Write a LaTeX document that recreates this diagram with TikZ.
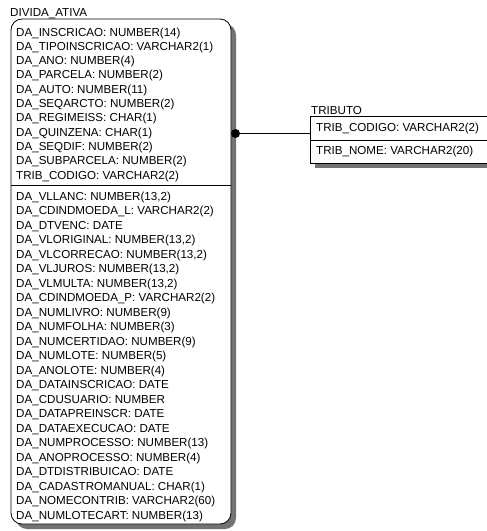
\documentclass[tikz,border=0pt]{standalone}
\usepackage{fontspec}
\setmainfont{Liberation Sans}
\begin{document}
\begin{tikzpicture}[x=1pt, y=-1pt,
  entline/.style={draw=black, line width=0.8pt},
  entshadow/.style={fill=black!55},
  attr/.style={anchor=base west, inner sep=0pt, font=\fontsize{11.6}{13}\selectfont},
  enttitle/.style={anchor=base west, inner sep=0pt, font=\fontsize{11.6}{13}\selectfont},
  keydot/.style={circle, fill=black, inner sep=0pt, minimum size=9pt}]
\useasboundingbox (0,0) rectangle (487,531);

% ---- DIVIDA_ATIVA entity ----
\fill[entshadow, rounded corners=11pt] (16,24) rectangle (236,529);
\filldraw[entline, fill=white, rounded corners=11pt] (11,19) rectangle (231,524);
\draw[entline] (11,185) -- (231,185);
\node[enttitle] (da) at (10,16.7) {DIVIDA\_ATIVA};
\coordinate (daedge) at (235.5,133.5);

\foreach \t [count=\i] in {
  {DA\_INSCRICAO: NUMBER(14)},
  {DA\_TIPOINSCRICAO: VARCHAR2(1)},
  {DA\_ANO: NUMBER(4)},
  {DA\_PARCELA: NUMBER(2)},
  {DA\_AUTO: NUMBER(11)},
  {DA\_SEQARCTO: NUMBER(2)},
  {DA\_REGIMEISS: CHAR(1)},
  {DA\_QUINZENA: CHAR(1)},
  {DA\_SEQDIF: NUMBER(2)},
  {DA\_SUBPARCELA: NUMBER(2)},
  {TRIB\_CODIGO: VARCHAR2(2)}}
  \node[attr] (dak\i) at (16,{36+(\i-1)*14.3}) {\t};

\foreach \t [count=\i] in {
  {DA\_VLLANC: NUMBER(13,2)},
  {DA\_CDINDMOEDA\_L: VARCHAR2(2)},
  {DA\_DTVENC: DATE},
  {DA\_VLORIGINAL: NUMBER(13,2)},
  {DA\_VLCORRECAO: NUMBER(13,2)},
  {DA\_VLJUROS: NUMBER(13,2)},
  {DA\_VLMULTA: NUMBER(13,2)},
  {DA\_CDINDMOEDA\_P: VARCHAR2(2)},
  {DA\_NUMLIVRO: NUMBER(9)},
  {DA\_NUMFOLHA: NUMBER(3)},
  {DA\_NUMCERTIDAO: NUMBER(9)},
  {DA\_NUMLOTE: NUMBER(5)},
  {DA\_ANOLOTE: NUMBER(4)},
  {DA\_DATAINSCRICAO: DATE},
  {DA\_CDUSUARIO: NUMBER},
  {DA\_DATAPREINSCR: DATE},
  {DA\_DATAEXECUCAO: DATE},
  {DA\_NUMPROCESSO: NUMBER(13)},
  {DA\_ANOPROCESSO: NUMBER(4)},
  {DA\_DTDISTRIBUICAO: DATE},
  {DA\_CADASTROMANUAL: CHAR(1)},
  {DA\_NOMECONTRIB: VARCHAR2(60)},
  {DA\_NUMLOTECART: NUMBER(13)}}
  \node[attr] (daa\i) at (16,{200.5+(\i-1)*14.48}) {\t};

% ---- TRIBUTO entity ----
\fill[entshadow] (315,163) rectangle (495,168);
\filldraw[entline, fill=white] (310,116.5) rectangle (492,163);
\draw[entline] (310,140) -- (492,140);
\node[enttitle] (trib) at (311,114) {TRIBUTO};
\node[attr] (tribk1) at (316,131.5) {TRIB\_CODIGO: VARCHAR2(2)};
\node[attr] (triba1) at (316,154.5) {TRIB\_NOME: VARCHAR2(20)};
\coordinate (tribedge) at (310,133.5);

% ---- relationship ----
\draw[entline] (daedge) -- (tribedge);
\node[keydot] (reldot) at (daedge) {};
\end{tikzpicture}
\end{document}
